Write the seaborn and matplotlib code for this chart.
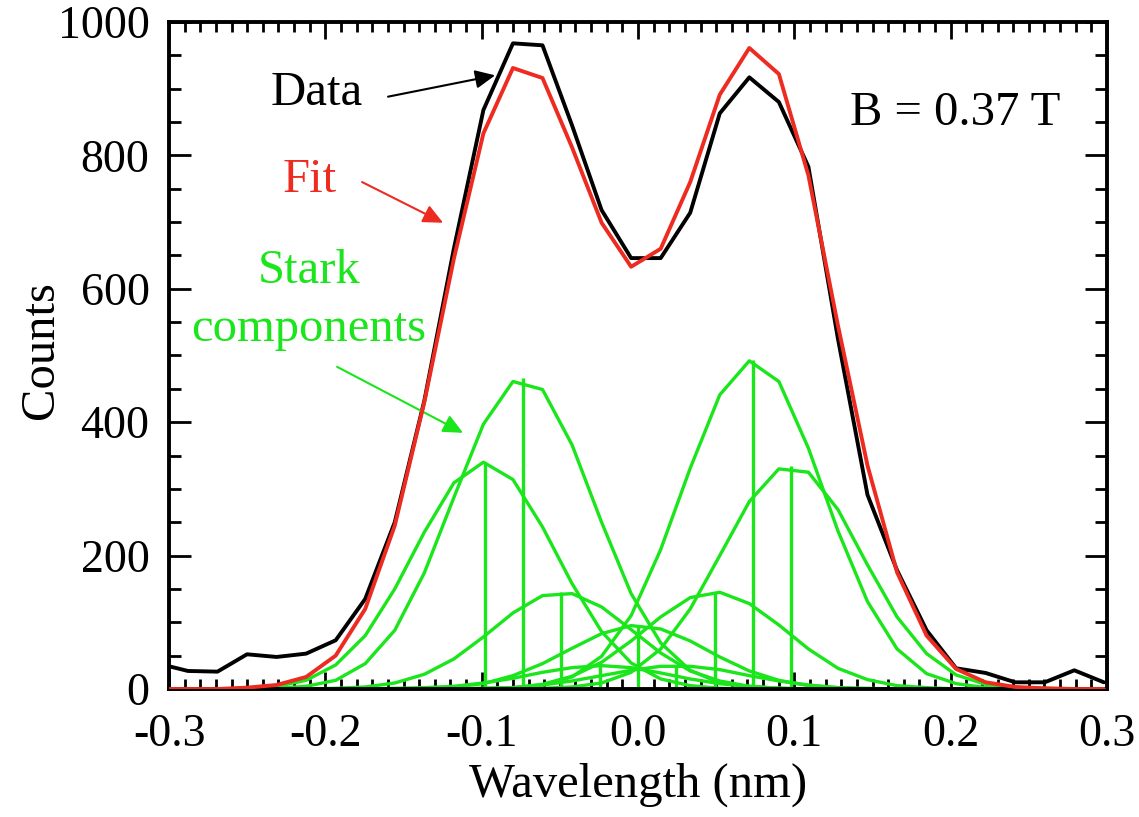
import matplotlib.pyplot as plt
import pandas as pd
import seaborn as sns
from matplotlib.ticker import MultipleLocator

# spectrometer pixel grid (nm, relative to line centre)
wavelength = [-0.3068, -0.2879, -0.2690, -0.2501, -0.2312, -0.2123, -0.1934, -0.1745,
              -0.1556, -0.1367, -0.1178, -0.0989, -0.0800, -0.0611, -0.0422, -0.0233,
              -0.0044, 0.0145, 0.0334, 0.0523, 0.0712, 0.0901, 0.1090, 0.1279,
              0.1468, 0.1657, 0.1846, 0.2035, 0.2224, 0.2413, 0.2602, 0.2791, 0.2980]

data_counts = [38, 27, 26, 52, 48, 53, 73, 135, 250, 432, 660, 868, 968, 965, 845, 718,
               646, 646, 714, 863, 917, 880, 783, 525, 291, 178, 88, 31, 24, 10, 10, 28, 10]
fit_counts = [0, 0, 0, 2, 6, 18, 50, 120, 245, 430, 645, 833, 931, 916, 812, 699,
              633, 660, 760, 891, 961, 922, 770, 545, 335, 175, 80, 30, 10, 3, 1, 0, 0]

# individual Stark components, same grid
stark_m4 = [0, 0, 0, 1, 4, 13, 36, 80, 150, 235, 309, 340, 314, 243, 158, 86,
            39, 15, 5, 1, 0, 0, 0, 0, 0, 0, 0, 0, 0, 0, 0, 0, 0]
stark_m3 = [0, 0, 0, 0, 1, 4, 13, 38, 88, 174, 287, 397, 461, 449, 366, 250,
            143, 69, 28, 9, 3, 1, 0, 0, 0, 0, 0, 0, 0, 0, 0, 0, 0]
stark_m2 = [0, 0, 0, 0, 0, 0, 1, 3, 9, 22, 45, 78, 114, 140, 143, 123,
            89, 54, 27, 12, 4, 1, 0, 0, 0, 0, 0, 0, 0, 0, 0, 0, 0]
stark_m1 = [0, 0, 0, 0, 0, 0, 0, 0, 1, 2, 4, 9, 16, 25, 32, 35,
            32, 24, 15, 8, 4, 1, 0, 0, 0, 0, 0, 0, 0, 0, 0, 0, 0]
stark_0 = [0, 0, 0, 0, 0, 0, 0, 0, 0, 1, 3, 8, 20, 38, 61, 83,
           95, 90, 72, 48, 27, 13, 5, 2, 0, 0, 0, 0, 0, 0, 0, 0, 0]
stark_p1 = [0, 0, 0, 0, 0, 0, 0, 0, 0, 0, 0, 1, 2, 6, 12, 20,
            28, 34, 34, 29, 20, 12, 6, 2, 1, 0, 0, 0, 0, 0, 0, 0, 0]
stark_p2 = [0, 0, 0, 0, 0, 0, 0, 0, 0, 0, 0, 1, 2, 7, 19, 40,
            72, 108, 137, 145, 128, 96, 60, 31, 14, 5, 2, 0, 0, 0, 0, 0, 0]
stark_p3 = [0, 0, 0, 0, 0, 0, 0, 0, 0, 0, 0, 0, 1, 6, 18, 49,
            110, 209, 331, 441, 492, 461, 361, 237, 131, 60, 23, 8, 2, 0, 0, 0, 0]
stark_p4 = [0, 0, 0, 0, 0, 0, 0, 0, 0, 0, 0, 0, 0, 1, 3, 9,
            25, 60, 120, 200, 281, 330, 325, 269, 186, 108, 53, 21, 7, 2, 1, 0, 0]

stem_centers = [-0.098, -0.0735, -0.049, -0.0245, 0.0, 0.0245, 0.049, 0.0735, 0.098]
stem_heights = [340, 466, 145, 35, 95, 35, 145, 493, 335]

x_ticks = [-0.3, -0.2, -0.1, 0.0, 0.1, 0.2, 0.3]
x_tick_labels = ["-0.3", "-0.2", "-0.1", "0.0", "0.1", "0.2", "0.3"]
y_ticks = [0, 200, 400, 600, 800, 1000]

GREEN = "#1be51b"
RED = "#ed2b21"

sns.set_theme(style="ticks")
plt.rcParams["font.family"] = ["Liberation Serif", "DejaVu Serif"]
plt.rcParams["axes.unicode_minus"] = False

fig = plt.figure(figsize=(11.39, 8.17), dpi=100)
ax = fig.add_axes([0.1484, 0.1567, 0.8235, 0.8164])

comps = pd.DataFrame({
    "wavelength": wavelength,
    "m4": stark_m4, "m3": stark_m3, "m2": stark_m2, "m1": stark_m1, "0": stark_0,
    "p1": stark_p1, "p2": stark_p2, "p3": stark_p3, "p4": stark_p4,
}).melt(id_vars="wavelength", var_name="component", value_name="counts")

sns.lineplot(data=comps, x="wavelength", y="counts", units="component", estimator=None,
             color=GREEN, lw=2.4, ax=ax, zorder=2)
ax.vlines(stem_centers, 0, stem_heights, color=GREEN, lw=2.4, zorder=2)
sns.lineplot(x=wavelength, y=data_counts, color="black", lw=2.8, ax=ax, zorder=3)
sns.lineplot(x=wavelength, y=fit_counts, color=RED, lw=2.8, ax=ax, zorder=4)

ax.set_xlim(-0.3, 0.3)
ax.set_ylim(0, 1000)
ax.set_xticks(x_ticks)
ax.set_xticklabels(x_tick_labels)
ax.set_yticks(y_ticks)
ax.xaxis.set_minor_locator(MultipleLocator(0.01))
ax.yaxis.set_minor_locator(MultipleLocator(50))

for s in ax.spines.values():
    s.set_linewidth(2.8)
    s.set_color("black")

ax.tick_params(which="both", direction="in", top=True, right=True, width=2, color="black",
               labelsize=33, labelcolor="black")
ax.tick_params(axis="x", which="major", length=12, pad=18)
ax.tick_params(axis="x", which="minor", length=7)
ax.tick_params(axis="y", which="major", length=16, pad=14)
ax.tick_params(axis="y", which="minor", length=8.5)

ax.set_xlabel("Wavelength (nm)", fontsize=35, color="black")
ax.set_ylabel("Counts", fontsize=35, color="black")
ax.xaxis.set_label_coords(0.5, -0.111)
ax.yaxis.set_label_coords(-0.113, 0.508)

# annotations
ax.text(-0.2053, 875, "Data", fontsize=35, color="black", ha="center", va="baseline")
ax.text(-0.2098, 745, "Fit", fontsize=35, color=RED, ha="center", va="baseline")
ax.text(-0.2104, 609, "Stark", fontsize=35, color=GREEN, ha="center", va="baseline")
ax.text(-0.2110, 522, "components", fontsize=35, color=GREEN, ha="center", va="baseline")
ax.text(0.2029, 845, "B = 0.37 T", fontsize=35, color="black", ha="center", va="baseline")

arrow = "-|>,head_length=0.6,head_width=0.28"
ax.annotate("", xy=(-0.0914, 920), xytext=(-0.1599, 888),
            arrowprops=dict(arrowstyle=arrow, mutation_scale=20, color="black",
                            lw=1.5, shrinkA=0, shrinkB=0))
ax.annotate("", xy=(-0.1247, 699), xytext=(-0.1765, 760),
            arrowprops=dict(arrowstyle=arrow, mutation_scale=20, color=RED,
                            lw=1.5, shrinkA=0, shrinkB=0))
ax.annotate("", xy=(-0.1119, 384), xytext=(-0.1925, 483),
            arrowprops=dict(arrowstyle=arrow, mutation_scale=20, color=GREEN,
                            lw=1.5, shrinkA=0, shrinkB=0))

fig.savefig("out.png", dpi=100)
